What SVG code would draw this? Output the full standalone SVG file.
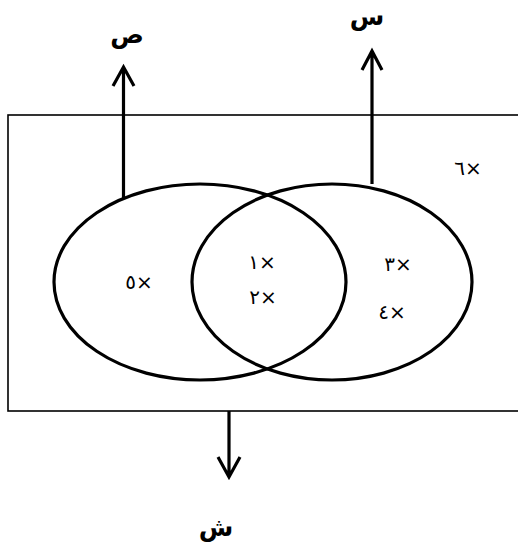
<svg xmlns="http://www.w3.org/2000/svg" width="518" height="542" viewBox="0 0 518 542">
<style>
.frame{fill:none;stroke:#000;stroke-width:1.6}
.set{fill:none;stroke:#000;stroke-width:3.2}
.conn{fill:none;stroke:#000;stroke-width:3.2}
.el{font-family:"DejaVu Sans",sans-serif;font-size:20px;fill:#000;text-anchor:middle;direction:ltr}
.lbl{font-family:"Liberation Sans","DejaVu Sans",sans-serif;font-size:25px;font-weight:bold;fill:#000;text-anchor:middle}
</style>
<rect width="518" height="542" fill="#fff"/>
<g id="universe">
<rect class="frame" x="8" y="115" width="530" height="296"/>
<text class="el" x="468" y="175">٦×</text>
</g>
<g id="setY">
<ellipse class="set" cx="200" cy="282" rx="146" ry="98"/>
<text class="el" x="139" y="289">٥×</text>
</g>
<g id="setX">
<ellipse class="set" cx="332" cy="282" rx="140" ry="98"/>
<text class="el" x="398" y="271">٣×</text>
<text class="el" x="392" y="319">٤×</text>
</g>
<g id="intersection">
<text class="el" x="262" y="269">١×</text>
<text class="el" x="263" y="304">٢×</text>
</g>
<g id="connectors">
<path class="conn" d="M123.5 199V67 M113 86L123.5 67L134 86"/>
<path class="conn" d="M372 184V51 M362 70L372 51L382 70"/>
<path class="conn" d="M229 411V477 M218 457L229 477L240 457"/>
</g>
<g id="labelY"><text class="lbl" x="127" y="43">ص</text></g>
<g id="labelX"><text class="lbl" x="367" y="25">س</text></g>
<g id="labelZ"><text class="lbl" x="216" y="536">ش</text></g>
</svg>
